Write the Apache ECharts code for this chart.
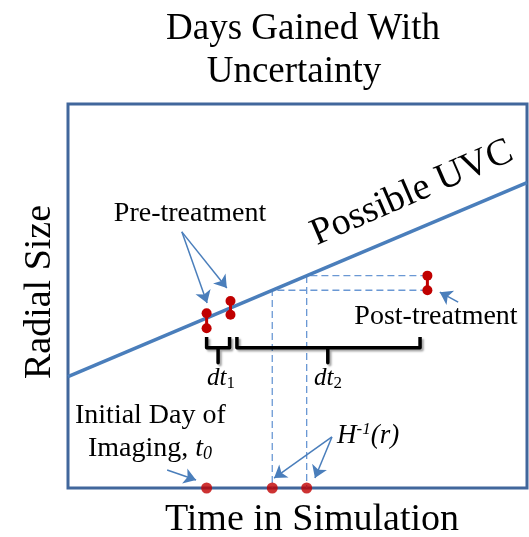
<!DOCTYPE html>
<html><head><meta charset="utf-8">
<script src="https://cdn.jsdelivr.net/npm/echarts@6/dist/echarts.min.js"></script>
<style>html,body{margin:0;padding:0;background:#fff}#c{width:529px;height:537px}</style>
</head><body><div id="c"></div>
<script>
// Possible UVC line (time, radial size) in axis units 0..100
const uvcLine = [[0, 29], [100, 79.5]];
// Pre-treatment measurements (pairs of uncertainty bounds)
const preTreat1 = [[30.2, 45.5], [30.2, 41.6]];
const preTreat2 = [[35.4, 48.7], [35.4, 45.1]];
// Post-treatment measurement
const postTreat = [[78.3, 55.3], [78.3, 51.5]];
// Time points on the time axis: t0 and inverse of H at the two bounds
const timePoints = [[30.2, 0], [44.5, 0], [52.0, 0]];
// Dashed projection guides
const guideLow = [[78.3, 51.5], [44.5, 51.5], [44.5, 0]];
const guideHigh = [[78.3, 55.3], [52.0, 55.3], [52.0, 0]];
// Braces dt1 and dt2
const brace1 = [[30.2, 39.3], [30.2, 36.5], [32.7, 36.5], [32.7, 32.6], [32.7, 36.5], [35.2, 36.5], [35.2, 39.3]];
const brace2 = [[36.8, 39.3], [36.8, 36.5], [56.6, 36.5], [56.6, 32.6], [56.6, 36.5], [76.7, 36.5], [76.7, 39.3]];
// Annotation arrows [from, to]
const arrows = [
  [[24.8, 66.7], [30.3, 48.2]],
  [[24.8, 66.7], [34.6, 52.1]],
  [[85.0, 48.4], [81.0, 51.0]],
  [[21.6, 4.7], [27.9, 2.1]],
  [[57.5, 13.3], [44.9, 2.6]],
  [[57.5, 13.3], [53.8, 2.6]]
];

const chart = echarts.init(document.getElementById('c'));
const blue = '#4a7ebb';
const red = '#c00000';
const dash = '#6a98d4';
const F = (s, it) => (it ? 'italic ' : '') + s + 'px "Liberation Serif"';

function pairSeries(d) {
  return { type: 'line', data: d, symbol: 'circle', symbolSize: 10, clip: false,
    itemStyle: { color: red }, lineStyle: { color: red, width: 3 }, z: 10 };
}
function braceSeries(d) {
  return { type: 'line', data: d, symbol: 'none', clip: false,
    lineStyle: { color: '#000', width: 3.5, join: 'round', shadowColor: 'rgba(0,0,0,0.35)', shadowBlur: 2, shadowOffsetX: 2, shadowOffsetY: 2 }, z: 6 };
}
function txt(x, y, text, font, align, rot) {
  return { type: 'text', x: x, y: y, rotation: rot || 0,
    style: { text: text, font: font, fill: '#000', textAlign: align || 'center', textVerticalAlign: 'middle' } };
}

chart.setOption({
  animation: false,
  grid: { left: 68, top: 104, width: 459, height: 384, show: true, borderColor: '#41679c', borderWidth: 3, backgroundColor: '#fff' },
  xAxis: { type: 'value', min: 0, max: 100, show: false },
  yAxis: { type: 'value', min: 0, max: 100, show: false },
  series: [
    { type: 'line', data: uvcLine, symbol: 'none', lineStyle: { color: blue, width: 3.5 }, z: 5 },
    { type: 'line', data: guideLow, symbol: 'none', lineStyle: { color: dash, width: 1.3, type: [7, 4] }, z: 4 },
    { type: 'line', data: guideHigh, symbol: 'none', lineStyle: { color: dash, width: 1.3, type: [7, 4] }, z: 4 },
    braceSeries(brace1),
    braceSeries(brace2),
    pairSeries(preTreat1),
    pairSeries(preTreat2),
    pairSeries(postTreat),
    { type: 'scatter', data: timePoints, symbolSize: 11, clip: false, itemStyle: { color: red }, z: 11 },
    { type: 'lines', coordinateSystem: 'cartesian2d', symbol: ['none', 'arrow'], symbolSize: [9, 12],
      data: arrows.map(a => ({ coords: a })), lineStyle: { color: blue, width: 1.5, opacity: 1 }, z: 7 }
  ],
  graphic: [
    txt(303, 29, 'Days Gained With', F(37)),
    txt(294, 72, 'Uncertainty', F(37)),
    txt(312, 520, 'Time in Simulation', F(38)),
    txt(40, 292, 'Radial Size', F(38), 'center', Math.PI / 2),
    txt(412, 193, 'Possible UVC', F(38), 'center', 23.4 * Math.PI / 180),
    txt(190, 214, 'Pre-treatment', F(28)),
    txt(436, 317, 'Post-treatment', F(28)),
    txt(75, 416, 'Initial Day of', F(28), 'left'),
    { type: 'text', x: 88, y: 449, style: { rich: { n: { font: F(28), fill: '#000' }, i: { font: F(28, true), fill: '#000' }, s: { font: F(18, true), fill: '#000', padding: [10, 0, 0, 0] } }, text: '{n|Imaging, }{i|t}{s|0}', textAlign: 'left', textVerticalAlign: 'middle' } },
    { type: 'text', x: 337, y: 436, style: { rich: { i: { font: F(27, true), fill: '#000' }, s: { font: F(17, true), fill: '#000', padding: [0, 0, 12, 0] } }, text: '{i|H}{s|-1}{i|(r)}', textAlign: 'left', textVerticalAlign: 'middle' } },
    { type: 'text', x: 221, y: 378, style: { rich: { i: { font: F(25, true), fill: '#000' }, s: { font: F(17), fill: '#000', padding: [12, 0, 0, 0] } }, text: '{i|dt}{s|1}', textAlign: 'center', textVerticalAlign: 'middle' } },
    { type: 'text', x: 328, y: 378, style: { rich: { i: { font: F(25, true), fill: '#000' }, s: { font: F(17), fill: '#000', padding: [12, 0, 0, 0] } }, text: '{i|dt}{s|2}', textAlign: 'center', textVerticalAlign: 'middle' } }
  ]
});
</script></body></html>
